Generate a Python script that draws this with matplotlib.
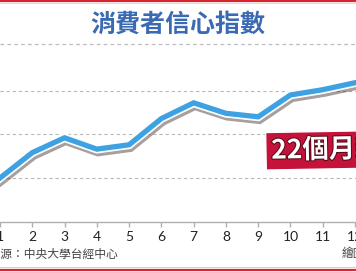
import matplotlib
matplotlib.use('Agg')
import matplotlib.pyplot as plt
import matplotlib.patheffects as pe
from matplotlib.lines import Line2D

plt.rcParams['font.family'] = ['Noto Sans CJK TC', 'DejaVu Sans']

months = [1, 2, 3, 4, 5, 6, 7, 8, 9, 10, 11, 12]
cci = [60.0, 62.9, 64.6, 63.3, 63.8, 66.8, 68.6, 67.4, 67.0, 69.5, 70.1, 70.9]
tick_labels = [str(m) for m in months]
grid_levels = [60, 65, 70]

title = '消費者信心指數'
badge = '22個月新高'
source = '資料來源：中央大學台經中心'
credit = '繪圖：'

W, H = 356, 272
fig = plt.figure(figsize=(W / 100, H / 100), dpi=100)
fig.patch.set_facecolor('white')

# chart area: x from month scale, y baseline at 55
ax = fig.add_axes([0, 50.3 / H, 1, (221.7 - 44) / H])
ax.set_xlim(2 - 20 / 33.5, 2 + 336 / 33.5)
ax.set_ylim(55, 75.33)
ax.set_facecolor('none')

for g in grid_levels:
    ax.axhline(g, color='#b8b8b8', lw=0.8, dashes=(3, 2.5), zorder=1)

ax.plot(months, cci, color='#3ea2e2', lw=3.8, solid_joinstyle='miter', zorder=3,
        path_effects=[pe.SimpleLineShadow(offset=(0.8, -1.8), shadow_color='#3a2a28', alpha=0.45, linewidth=6.8),
                      pe.Stroke(linewidth=6.3, foreground='white'),
                      pe.Normal()])

for s in ['top', 'left', 'right']:
    ax.spines[s].set_visible(False)
ax.spines['bottom'].set_color('#b0b0b0')
ax.spines['bottom'].set_linewidth(1)
ax.set_yticks([])
ax.set_xticks(months)
ax.set_xticklabels(tick_labels, fontsize=10, family=['Lato', 'DejaVu Sans'], color='#222222')
ax.tick_params(axis='x', length=3.5, width=1, color='#b0b0b0', pad=3.5)

# first month label sits at the cropped left edge
fig.text(0.0, 1 - 237 / H, '1', ha='center', va='center', fontsize=10,
         family=['Lato', 'DejaVu Sans'], color='#222222')

# title and frame lines
fig.text(0.5, 1 - 25 / H, title, ha='center', va='center', fontsize=18,
         color='#3a6ab2', weight='bold')
fig.add_artist(Line2D([0, 1], [1 - 44 / H] * 2, color='#bdbdbd', lw=0.9, dashes=(3, 2.5)))
fig.add_artist(Line2D([0, 1], [1 - 1 / H] * 2, color='#d7262f', lw=1.6))
fig.add_artist(Line2D([0, 1], [1 - 3 / H] * 2, color='#dddddd', lw=0.8))
fig.add_artist(Line2D([0, 1], [1 - 267 / H] * 2, color='#c8d2e0', lw=0.8))
fig.add_artist(Line2D([0, 1], [1 - 270 / H] * 2, color='#d7262f', lw=1.6))

# red badge
fig.text(271 / W, 1 - 150 / H, badge, ha='left', va='center', fontsize=19,
         weight='bold', color='white', rotation=1,
         path_effects=[pe.withStroke(linewidth=1.5, foreground='#5a0a18')],
         bbox=dict(boxstyle='square,pad=0.2', facecolor='#c4123a', edgecolor='white', lw=1))

fig.text(118 / W, 1 - 254 / H, source, ha='right', va='center', fontsize=8.5, color='#444444')
fig.text(342 / W, 1 - 254 / H, credit, ha='left', va='center', fontsize=8.5, color='#444444')

fig.savefig('out.png', dpi=100)
